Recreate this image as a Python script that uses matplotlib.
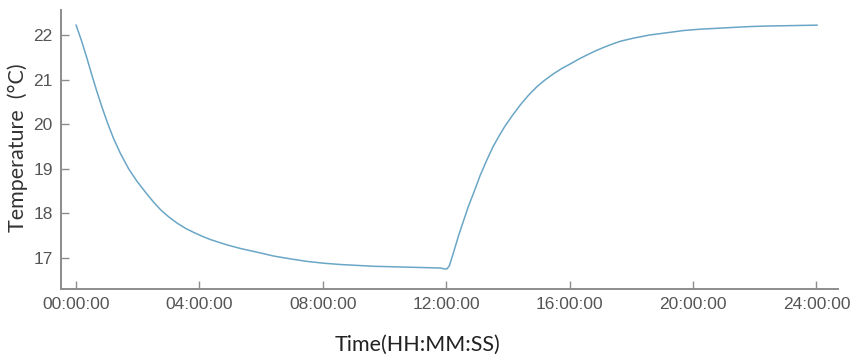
import matplotlib
matplotlib.use('Agg')
import matplotlib.pyplot as plt

plt.rcParams['font.family'] = ['Liberation Sans', 'DejaVu Sans']

# time in hours, temperature in deg C
hours = [0.0, 0.18, 0.35, 0.51, 0.67, 0.83, 1.0, 1.2, 1.43, 1.7, 1.97, 2.25, 2.51,
         2.75, 3.0, 3.27, 3.55, 3.81, 4.1, 4.35, 4.62, 4.89, 5.32, 5.97, 6.4, 7.0,
         7.48, 8.0, 8.56, 9.1, 9.64, 10.2, 10.73, 11.3, 11.81, 11.95, 12.02, 12.1,
         12.24, 12.4, 12.56, 12.72, 12.89, 13.1, 13.3, 13.5, 13.7, 13.9, 14.13,
         14.40, 14.67, 14.94, 15.2, 15.48, 15.75, 16.02, 16.3, 16.56, 16.83, 17.1,
         17.4, 17.65, 18.08, 18.6, 19.16, 19.7, 20.24, 20.8, 21.32, 21.9, 22.4,
         23.2, 24.02]
temps = [22.22, 21.86, 21.48, 21.10, 20.74, 20.40, 20.06, 19.70, 19.35, 19.00, 18.72,
         18.47, 18.25, 18.07, 17.92, 17.78, 17.66, 17.57, 17.48, 17.41, 17.35, 17.29,
         17.21, 17.11, 17.04, 16.97, 16.92, 16.88, 16.85, 16.83, 16.81, 16.80, 16.79,
         16.78, 16.77, 16.75, 16.75, 16.82, 17.13, 17.50, 17.83, 18.16, 18.46, 18.85,
         19.17, 19.47, 19.72, 19.95, 20.18, 20.43, 20.65, 20.84, 20.99, 21.13, 21.25,
         21.35, 21.46, 21.55, 21.64, 21.72, 21.80, 21.86, 21.93, 22.00, 22.05, 22.10,
         22.13, 22.15, 22.17, 22.19, 22.20, 22.21, 22.22]

xtick_pos = [0, 4, 8, 12, 16, 20, 24]
xtick_labels = ['00:00:00', '04:00:00', '08:00:00', '12:00:00',
                '16:00:00', '20:00:00', '24:00:00']
ytick_pos = [17, 18, 19, 20, 21, 22]

fig = plt.figure(figsize=(8.52, 3.57), dpi=100)
ax = fig.add_axes([61/852, 1-289/357, (838-61)/852, (289-10)/357])

ax.plot(hours, temps, color='#6aa6c6', linewidth=1.1)

ax.set_xlim(-0.49, 24.7)
ax.set_ylim(16.30, 22.56)
ax.set_xticks(xtick_pos)
ax.set_xticklabels(xtick_labels)
ax.set_yticks(ytick_pos)

for s in ['top', 'right']:
    ax.spines[s].set_visible(False)
for s in ['left', 'bottom']:
    ax.spines[s].set_color('#8c8c8c')
    ax.spines[s].set_linewidth(1.4)

ax.tick_params(direction='in', length=6, width=1.0, color='#8c8c8c',
               labelcolor='#555555', labelsize=12.5, pad=6)

fig.text(0.49, 0.033, 'Time(HH:MM:SS)', ha='center', va='center',
         fontsize=15.5, color='#222222', family='Lato')
fig.text(0.021, 0.585, 'Temperature  (°C)', ha='center', va='center',
         rotation=90, fontsize=15.5, color='#333333', family='Lato')

plt.savefig('out.png', dpi=100)
plt.close()
